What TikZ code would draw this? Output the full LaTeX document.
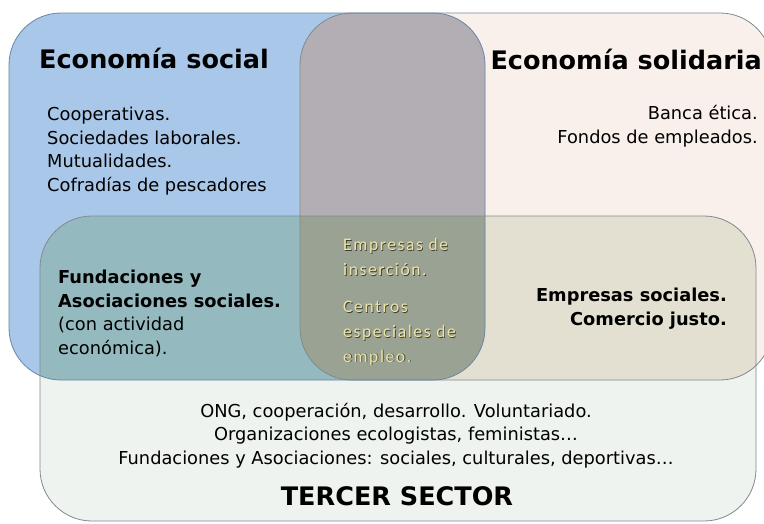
\documentclass[tikz,border=0pt]{standalone}
\usepackage{fontspec}
\setmainfont{DejaVu Sans}
\newfontfamily\headfont{DejaVu Sans}
\newfontfamily\centrofont[LetterSpace=9]{Carlito}

\definecolor{socialblue}{RGB}{169,199,232}
\definecolor{solidpink}{RGB}{249,240,236}
\definecolor{tercergreen}{RGB}{238,243,239}
\definecolor{mixgray}{RGB}{179,174,180}
\definecolor{mixteal}{RGB}{148,186,192}
\definecolor{mixbeige}{RGB}{227,223,209}
\definecolor{mixtriple}{RGB}{154,163,147}
\definecolor{socialrim}{RGB}{104,134,166}
\definecolor{setrim}{RGB}{128,138,142}
\definecolor{centroyellow}{RGB}{238,228,168}
\definecolor{centroshadow}{RGB}{62,62,44}

% the three sets
\def\socialset{(9,13) rectangle (485,380)}
\def\solidset{(300,13) rectangle (772,380)}
\def\tercerset{(40,216) rectangle (756,521)}
\def\centrolines{Empresas de\\inserción.\\[13pt]Centros\\especiales de\\empleo.}

\begin{document}
\begin{tikzpicture}[
      x=1pt, y=-1pt,
      set/.style={
         rounded corners=52pt
      },
      rim/.style={
         rounded corners=52pt,
         draw=#1,
         line width=0.8pt
      },
      titletext/.style={
         inner sep=0pt,
         font=\headfont\bfseries\fontsize{25.5}{30}\selectfont
      },
      itemtext/.style={
         inner sep=0pt,
         font=\fontsize{17.8}{23.4}\selectfont
      },
      bolditem/.style={
         inner sep=0pt,
         font=\headfont\bfseries\fontsize{17.8}{23.8}\selectfont
      },
      centrotext/.style={
         inner sep=0pt,
         align=left,
         anchor=base west,
         font=\centrofont\fontsize{17.6}{24.6}\selectfont
      }
    ]
    \clip (0,0) rectangle (764,523);
    \fill[white] (0,0) rectangle (764,523);
    % areas
    \fill[set, solidpink] \solidset;
    \fill[set, socialblue] \socialset;
    \begin{scope}
      \clip[set] \socialset;
      \fill[set, mixgray] \solidset;
    \end{scope}
    \fill[set, tercergreen] \tercerset;
    \begin{scope}
      \clip[set] \solidset;
      \fill[set, mixbeige] \tercerset;
    \end{scope}
    \begin{scope}
      \clip[set] \socialset;
      \fill[set, mixteal] \tercerset;
      \clip[set] \solidset;
      \fill[set, mixtriple] \tercerset;
    \end{scope}
    % borders
    \draw[rim=setrim] \solidset;
    \draw[rim=socialrim] \socialset;
    \draw[rim=setrim] \tercerset;

    % multi-line nodes sit on their last baseline
    \node (social title) [titletext, anchor=base west] at (39,68) {Economía social};
    \node (social items) [itemtext, align=left, anchor=base west] at (47,191)
       {Cooperativas.\\Sociedades laborales.\\Mutualidades.\\Cofradías de pescadores};
    \node (solid title) [titletext, anchor=base east] at (762,69) {Economía solidaria};
    \node (solid items) [itemtext, align=right, anchor=base east] at (758,143)
       {Banca ética.\\Fondos de empleados.};
    \node (fundaciones) [bolditem, align=left, anchor=base west] at (58,307)
       {Fundaciones y\\Asociaciones sociales.};
    \node (fundaciones note) [itemtext, align=left, anchor=base west] at (58,354)
       {(con actividad\\económica).};
    \node (centro shadow) [centrotext, text=centroshadow] at (343.8,362.8) {\centrolines};
    \node (centro) [centrotext, text=centroyellow] at (343,362) {\centrolines};
    \node (empresas) [bolditem, align=right, anchor=base east] at (727,325)
       {Empresas sociales.\\Comercio justo.};
    \node (tercer items) [itemtext, align=center, anchor=base] at (396,464)
       {ONG, cooperación, desarrollo. Voluntariado.\\Organizaciones ecologistas, feministas…\\Fundaciones y Asociaciones: sociales, culturales, deportivas…};
    \node (tercer title) [titletext, anchor=base] at (397,505) {TERCER SECTOR};
\end{tikzpicture}
\end{document}
